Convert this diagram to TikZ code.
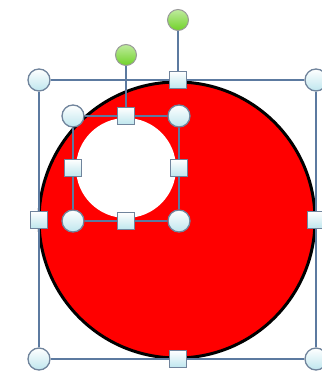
\documentclass[tikz,border=0pt]{standalone}
\usetikzlibrary{positioning}
\definecolor{framecol}{RGB}{92,122,160}
\definecolor{handlefill}{RGB}{190,230,238}
\definecolor{handleedge}{RGB}{112,132,156}
\definecolor{rotgreen}{RGB}{112,210,40}
\tikzset{
	cornerhandle/.style={circle, draw=handleedge, line width=1.3pt, top color=white, bottom color=handlefill, minimum size=22pt, inner sep=0pt},
	sidehandle/.style={rectangle, draw=handleedge, line width=1.3pt, top color=white, bottom color=handlefill, minimum size=17pt, inner sep=0pt},
	rothandle/.style={circle, draw=gray!80, line width=1pt, top color=rotgreen!45, bottom color=rotgreen, minimum size=21pt, inner sep=0pt},
	selframe/.style={draw=framecol, line width=1.5pt}
}
\begin{document}
\begin{tikzpicture}[x=1pt,y=-1pt]
	\useasboundingbox (0,0) rectangle (321,371);
	\node[circle, fill=red, draw=black, line width=3pt, minimum size=276pt, inner sep=0pt] (disc) at (177,220) {};
	\node[circle, fill=white, minimum size=100pt, inner sep=0pt] (hole) at (126,168) {};
	% outer selection
	\foreach \n/\x/\y in {btl/39/80, btr/316/80, bbl/39/359, bbr/316/359} {\node[cornerhandle] (\n) at (\x,\y) {};}
	\foreach \n/\x/\y in {btm/178/80, bbm/178/359, blm/39/220, brm/316/220} {\node[sidehandle] (\n) at (\x,\y) {};}
	\node[rothandle] (brot) at (178,20) {};
	\draw[selframe] (btl) -- (btm) -- (btr) -- (brm) -- (bbr) -- (bbm) -- (bbl) -- (blm) -- (btl);
	\draw[selframe] (btm) -- (brot);
	% inner selection
	\foreach \n/\x/\y in {stl/73/116, str/179/116, sbl/73/221, sbr/179/221} {\node[cornerhandle] (\n) at (\x,\y) {};}
	\foreach \n/\x/\y in {stm/126/116, sbm/126/221, slm/73/168, srm/179/168} {\node[sidehandle] (\n) at (\x,\y) {};}
	\node[rothandle] (srot) at (126,55) {};
	\draw[selframe] (stl) -- (stm) -- (str) -- (srm) -- (sbr) -- (sbm) -- (sbl) -- (slm) -- (stl);
	\draw[selframe] (stm) -- (srot);
\end{tikzpicture}
\end{document}
